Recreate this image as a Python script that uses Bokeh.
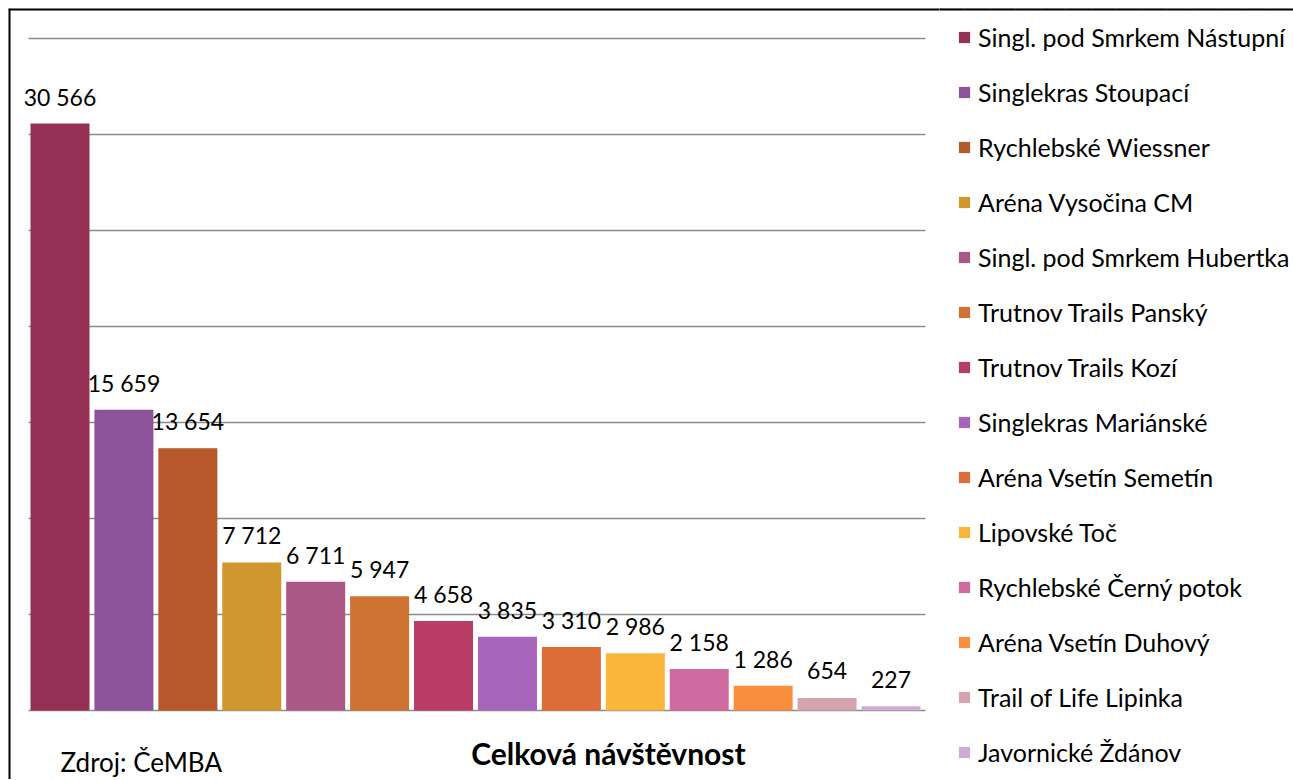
from bokeh.plotting import figure
from bokeh.layouts import row
from bokeh.models import (ColumnDataSource, Legend, LegendItem, Label, Span,
                          SingleIntervalTicker, FactorRange, Range1d)
from bokeh.embed import file_html
from bokeh.resources import INLINE
from bokeh.core.properties import value

names = [
    "Singl. pod Smrkem Nástupní",
    "Singlekras Stoupací",
    "Rychlebské Wiessner",
    "Aréna Vysočina CM",
    "Singl. pod Smrkem Hubertka",
    "Trutnov Trails Panský",
    "Trutnov Trails Kozí",
    "Singlekras Mariánské",
    "Aréna Vsetín Semetín",
    "Lipovské Toč",
    "Rychlebské Černý potok",
    "Aréna Vsetín Duhový",
    "Trail of Life Lipinka",
    "Javornické Ždánov",
]
visits = [30566, 15659, 13654, 7712, 6711, 5947, 4658, 3835, 3310, 2986, 2158, 1286, 654, 227]
colors = [
    "#963054", "#8C539A", "#B6582A", "#CF972D", "#AA5986", "#CE7332", "#B93C66",
    "#A865BB", "#DD6D36", "#F9B63A", "#CF6BA1", "#F88E3E", "#D4A3AE", "#CDADD6",
]
labels = [f"{v:,}".replace(",", " ") for v in visits]
chart_title = "Celková návštěvnost"
source_note = "Zdroj: ČeMBA"

FONT = "Lato"
PAD = 0.3057
Y_TOP = 36562
Y_BOTTOM = -3594

src = ColumnDataSource(dict(name=names, v=visits, color=colors, label=labels))

# ---- chart figure ----
p = figure(
    x_range=FactorRange(factors=names, range_padding=PAD, range_padding_units="absolute"),
    y_range=Range1d(Y_BOTTOM, Y_TOP),
    width=934, height=771,
    output_backend="svg", toolbar_location=None,
    min_border_left=0, min_border_right=0, min_border_top=0, min_border_bottom=0,
)
p.outline_line_color = None
p.border_fill_color = None
p.background_fill_color = None
p.xaxis.visible = False
p.yaxis.visible = False
p.xgrid.visible = False
g = p.ygrid[0]
g.ticker = SingleIntervalTicker(interval=5000, num_minor_ticks=0)
g.grid_line_color = "#8c8c8c"
g.grid_line_width = 1.5
if "cross_bounds" in g.properties():
    g.cross_bounds = (0, 14.04)
g.bounds = (0, 35000)

# value labels first, so the bars are painted over them (as in the original)
p.text(x="name", y="v", text="label", source=src, text_align="center",
       text_baseline="alphabetic", y_offset=-27, text_font=value(FONT),
       text_font_size="23px", text_color="black")

p.vbar(x="name", top="v", width=0.923, fill_color="color", line_color=None, source=src)

p.add_layout(Label(x=9.08, y=-2188, text=chart_title,
                   text_align="center", text_baseline="middle", text_font=FONT,
                   text_font_style="bold", text_font_size="30px", text_color="black"))
p.add_layout(Label(x=0.508, y=-2708, text=source_note,
                   text_align="left", text_baseline="middle", text_font=FONT,
                   text_font_size="26px", text_color="black"))

# outer chart border (left and top edges only)
p.add_layout(Span(location=-PAD, dimension="height", line_color="black", line_width=4))
p.add_layout(Span(location=Y_TOP, dimension="width", line_color="black", line_width=4))

# ---- legend figure (overlaps the chart's right edge by 3px) ----
p2 = figure(
    x_range=FactorRange(factors=names), y_range=Range1d(-2, -1),
    width=354, height=771,
    output_backend="svg", toolbar_location=None,
    min_border_left=0, min_border_right=0, min_border_top=0, min_border_bottom=0,
)
p2.styles = {"margin-left": "-3px"}
p2.outline_line_color = None
p2.border_fill_color = "white"
p2.background_fill_color = "white"
p2.axis.visible = False
p2.grid.visible = False
keys = p2.vbar(x="name", top="v", width=0.9, fill_color="color", line_color=None, source=src)
p2.add_layout(Span(location=-1, dimension="width", line_color="black", line_width=4))

items = [LegendItem(label=n, renderers=[keys], index=i) for i, n in enumerate(names)]
legend = Legend(
    items=items, location=(18, 12), orientation="vertical",
    border_line_color=None, background_fill_alpha=0, padding=0, margin=0,
    glyph_width=14, glyph_height=14, label_standoff=7, spacing=25, label_height=30,
    label_text_font=FONT, label_text_font_size="25px", label_text_color="black",
)
p2.add_layout(legend)

layout = row(p, p2)
layout.styles = {"margin-left": "8px", "margin-top": "8px"}

open("out.html", "w").write(file_html(layout, INLINE))
